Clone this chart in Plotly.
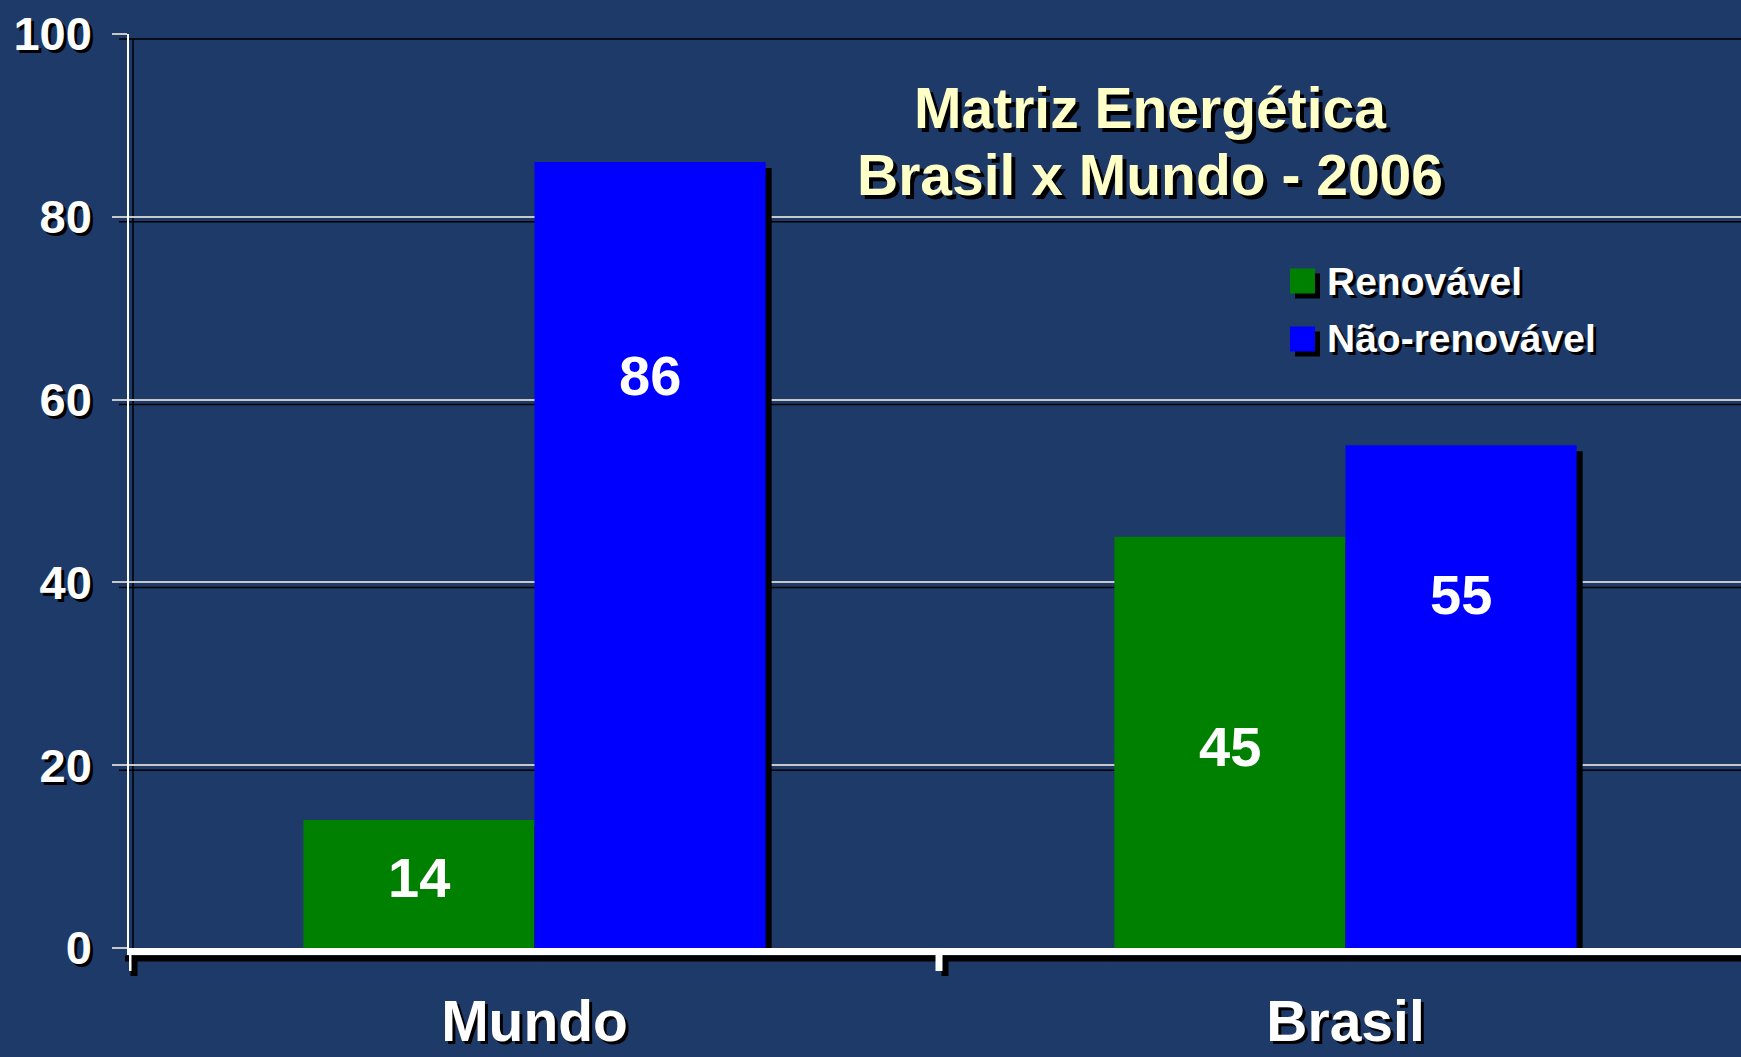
import plotly.graph_objects as go

# ---- data ----
categories = ["Mundo", "Brasil"]
renovavel = [14, 45]
nao_renovavel = [86, 55]
series_names = ["Renovável", "Não-renovável"]
y_ticks = [0, 20, 40, 60, 80, 100]
# vertical positions (in axis units) of the value labels, as placed in the original
label_pos_renovavel = [7.7, 22.0]
label_pos_nao = [62.6, 38.7]

# ---- style ----
BG = "#1e3a68"
GREEN = "#008000"
BLUE = "#0000ff"
FONT = "Liberation Sans, Arial, sans-serif"
SHADOW = "3px 3px 0px black"

W, H = 1741, 1057
ML, MR, MT, MB = 129, 0, 34, 109
plot_w = W - ML - MR
plot_h = H - MT - MB
cat_px = 811.0
x_max = -0.5 + plot_w / cat_px
bar_w = 0.285
px_x = 1.0 / cat_px            # one pixel in category units
px_y = 100.0 / plot_h          # one pixel in value units
sh = 6                          # bar shadow offset (px)

fig = go.Figure()

# bar shadows
for vals, off in [(renovavel, -bar_w), (nao_renovavel, 0.0)]:
    fig.add_trace(go.Bar(
        x=categories, y=vals, base=[-sh * px_y] * len(vals),
        offset=off + sh * px_x, width=bar_w,
        marker=dict(color="black", line=dict(width=0)),
        showlegend=False, hoverinfo="skip"))

# bars
fig.add_trace(go.Bar(x=categories, y=renovavel, name=series_names[0],
                     offset=-bar_w, width=bar_w,
                     marker=dict(color=GREEN, line=dict(width=0)),
                     showlegend=False))
fig.add_trace(go.Bar(x=categories, y=nao_renovavel, name=series_names[1],
                     offset=0.0, width=bar_w,
                     marker=dict(color=BLUE, line=dict(width=0)),
                     showlegend=False))

annotations = []
# value labels
for i, c in enumerate(categories):
    annotations.append(dict(x=i - bar_w / 2, y=label_pos_renovavel[i], xref="x", yref="y",
                            text=str(renovavel[i]), showarrow=False,
                            font=dict(family=FONT, size=56, color="white", weight="bold")))
    annotations.append(dict(x=i + bar_w / 2, y=label_pos_nao[i], xref="x", yref="y",
                            text=str(nao_renovavel[i]), showarrow=False,
                            font=dict(family=FONT, size=56, color="white", weight="bold")))


def pxx(p):
    return (p - ML) / plot_w


def pxy(p):
    return (H - MB - p) / plot_h


# title
title_font = dict(family=FONT, size=57, color="#ffffc8", weight="bold", shadow="4px 4px 0px black")
annotations.append(dict(x=pxx(1150), y=pxy(108), xref="paper", yref="paper",
                        text="Matriz Energética", showarrow=False,
                        xanchor="center", yanchor="middle", font=title_font))
annotations.append(dict(x=pxx(1150), y=pxy(175), xref="paper", yref="paper",
                        text="Brasil x Mundo - 2006", showarrow=False,
                        xanchor="center", yanchor="middle", font=title_font))

shapes = []
# legend
leg_font = dict(family=FONT, size=39, color="white", weight="bold", shadow=SHADOW)
for name, col, cy in [(series_names[0], GREEN, 281), (series_names[1], BLUE, 339)]:
    x0, x1 = 1290, 1315
    y0, y1 = cy - 12.5, cy + 12.5
    shapes.append(dict(type="rect", xref="paper", yref="paper",
                       x0=pxx(x0 + 5), x1=pxx(x1 + 5), y0=pxy(y1 + 5), y1=pxy(y0 + 5),
                       fillcolor="black", line=dict(width=0), layer="above"))
    shapes.append(dict(type="rect", xref="paper", yref="paper",
                       x0=pxx(x0), x1=pxx(x1), y0=pxy(y1), y1=pxy(y0),
                       fillcolor=col, line=dict(width=0), layer="above"))
    annotations.append(dict(x=pxx(1325), y=pxy(cy), xref="paper", yref="paper",
                            text=name, showarrow=False, xanchor="left", yanchor="middle",
                            font=leg_font))

# gridline shadows
for v in y_ticks[1:]:
    shapes.append(dict(type="line", xref="paper", yref="y",
                       xsizemode="pixel", xanchor=0, x0=-10, x1=plot_w + 10,
                       ysizemode="pixel", yanchor=v, y0=-5, y1=-5,
                       line=dict(color="black", width=1.5), layer="below"))
# y axis line shadow
shapes.append(dict(type="line", xref="paper", yref="paper",
                   xsizemode="pixel", xanchor=0, x0=4, x1=4,
                   ysizemode="pixel", yanchor=1, y0=-5, y1=-plot_h,
                   line=dict(color="black", width=1.5), layer="below"))
# x axis line shadow
shapes.append(dict(type="line", xref="paper", yref="paper",
                   xsizemode="pixel", xanchor=0, x0=-4, x1=plot_w + 10,
                   ysizemode="pixel", yanchor=0, y0=-10.5, y1=-10.5,
                   line=dict(color="black", width=6), layer="above"))
# x tick marks (shadow, then white) at category boundaries
for t in [-0.5, 0.5]:
    shapes.append(dict(type="line", xref="x", yref="paper",
                       xsizemode="pixel", xanchor=t, x0=5, x1=5,
                       ysizemode="pixel", yanchor=0, y0=-12, y1=-28,
                       line=dict(color="black", width=7), layer="above"))
    shapes.append(dict(type="line", xref="x", yref="paper",
                       xsizemode="pixel", xanchor=t, x0=-1, x1=-1,
                       ysizemode="pixel", yanchor=0, y0=-4, y1=-23,
                       line=dict(color="white", width=7), layer="above"))

fig.update_layout(
    width=W, height=H,
    margin=dict(l=ML, r=MR, t=MT, b=MB, autoexpand=False),
    paper_bgcolor=BG, plot_bgcolor=BG,
    barmode="overlay",
    showlegend=False,
    annotations=annotations,
    shapes=shapes,
    xaxis=dict(
        type="category", range=[-0.5, x_max],
        showgrid=False, zeroline=False, automargin=False,
        showline=True, linecolor="white", linewidth=7,
        ticks="",
        tickfont=dict(family=FONT, size=57, color="white", weight="bold", shadow=SHADOW),
        ticklabelstandoff=18,
    ),
    yaxis=dict(
        range=[0, 100], tickvals=y_ticks, automargin=False,
        showgrid=True, gridcolor="#c8c8c8", gridwidth=1.5,
        zeroline=False,
        showline=True, linecolor="white", linewidth=1.5,
        ticks="outside", ticklen=15, tickwidth=1.5, tickcolor="#c8c8c8",
        tickfont=dict(family=FONT, size=47, color="white", weight="bold", shadow=SHADOW),
        ticklabelstandoff=11,
    ),
)

fig.write_html("out.html", config={"displayModeBar": False},
               post_script="document.body.style.margin='0';")
